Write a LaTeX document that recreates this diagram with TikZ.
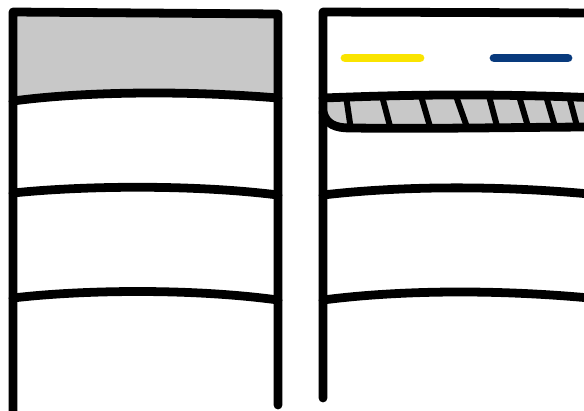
\documentclass[tikz,border=0pt]{standalone}
\usetikzlibrary{calc}
\definecolor{bandgray}{RGB}{200,200,200}
\definecolor{markyellow}{RGB}{250,228,0}
\definecolor{markblue}{RGB}{8,58,125}

\begin{document}
\begin{tikzpicture}[x=0.02cm,y=-0.02cm,
    ink/.style={line width=5pt,line cap=round,line join=round},
    hatch/.style={line width=3.4pt,line cap=butt},
    marker/.style={line width=5pt,line cap=round}]
  \useasboundingbox (0,0) rectangle (584,410);
  % left panel
  \fill[bandgray] (13,12) -- (278,14) -- (278,98) .. controls (180,90) and (80,92) .. (13,101) -- cycle;
  \draw[ink] (13,420) -- (13,12) -- (278,14) -- (278,405);
  \draw[ink] (13,101) .. controls (80,92) and (180,90) .. (278,98);
  \draw[ink] (13,193) .. controls (80,186) and (190,184) .. (278,195);
  \draw[ink] (13,298) .. controls (80,290) and (190,288) .. (278,300);
  % right panel
  \draw[marker,markyellow] (345,58) -- (420,58);
  \draw[marker,markblue] (494,58) -- (568,58);
  \fill[bandgray] (323,98) .. controls (400,95) and (480,93) .. (600,98) -- (600,127)
    .. controls (530,127) and (450,129) .. (350,128) .. controls (335,128) and (326,124) .. (323,112) -- cycle;
  \begin{scope}
    \clip (323,98) .. controls (400,95) and (480,93) .. (600,98) -- (600,127)
      .. controls (530,127) and (450,129) .. (350,128) .. controls (335,128) and (326,124) .. (323,112) -- cycle;
    \foreach \xa/\xb in {346/351,382/391,421/431,456/468,489/498,519/529,546/556,569/578}
      \draw[hatch] (\xa,96) -- (\xb,130);
  \end{scope}
  \draw[ink] (323,398) -- (323,12) -- (600,13);
  \draw[ink] (323,98) .. controls (400,95) and (480,93) .. (600,98);
  \draw[ink] (323,112) .. controls (326,124) and (335,128) .. (350,128) .. controls (450,129) and (530,127) .. (600,127);
  \draw[ink] (323,195) .. controls (400,186) and (500,185) .. (600,195);
  \draw[ink] (323,300) .. controls (400,290) and (500,289) .. (600,299);
\end{tikzpicture}
\end{document}
